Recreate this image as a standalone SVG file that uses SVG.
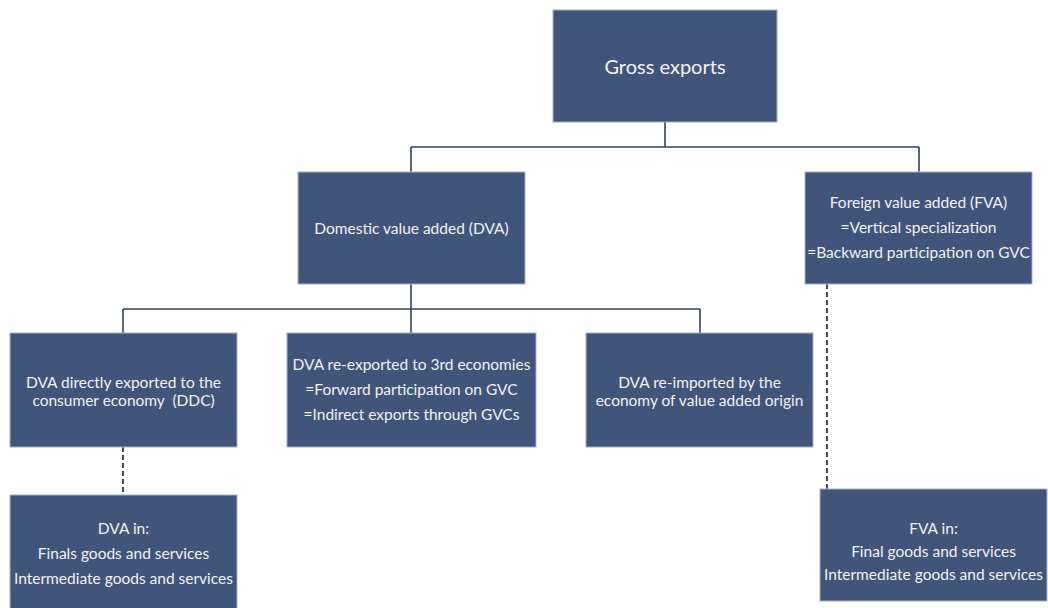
<svg xmlns="http://www.w3.org/2000/svg" width="1048" height="608" viewBox="0 0 1048 608">
<style>
.box{fill:#41547A;stroke:#A3B0C8;stroke-width:1}
.t{font-family:Lato,"Liberation Sans",sans-serif;font-size:15.5px;fill:#F2F2F2;text-anchor:middle;dominant-baseline:central}
.big{font-size:20px}
.conn{fill:none;stroke:#33425F;stroke-width:1.6}
.dash{fill:none;stroke:#111111;stroke-width:1.5;stroke-dasharray:5,3}
</style>
<rect width="1048" height="608" fill="#FFFFFF"/>
<g id="connectors">
<path class="conn" d="M665,122 V147 M411,147 H919 M411,147 V172 M919,147 V172"/>
<path class="conn" d="M411,284 V333 M123,309 H700 M123,309 V333 M700,309 V333"/>
<path class="dash" d="M123,447 V495"/>
<path class="dash" d="M827,284 V489"/>
</g>
<g id="gross-exports">
<rect class="box" x="553" y="10" width="224" height="112"/>
<text class="t big" x="665" y="66">Gross exports</text>
</g>
<g id="dva">
<rect class="box" x="298" y="172" width="227" height="112"/>
<text class="t" x="411.5" y="228">Domestic value added (DVA)</text>
</g>
<g id="fva">
<rect class="box" x="805" y="172" width="227" height="112"/>
<text class="t" x="918.5" y="202">Foreign value added (FVA)</text>
<text class="t" x="918.5" y="227">=Vertical specialization</text>
<text class="t" x="918.5" y="252">=Backward participation on GVC</text>
</g>
<g id="ddc">
<rect class="box" x="10" y="333" width="227" height="114"/>
<text class="t" x="123.5" y="382">DVA directly exported to the</text>
<text class="t" x="123.5" y="400">consumer economy&#160; (DDC)</text>
</g>
<g id="reexported">
<rect class="box" x="287" y="333" width="249" height="114"/>
<text class="t" x="411.5" y="364">DVA re-exported to 3rd economies</text>
<text class="t" x="411.5" y="389">=Forward participation on GVC</text>
<text class="t" x="411.5" y="414">=Indirect exports through GVCs</text>
</g>
<g id="reimported">
<rect class="box" x="586" y="333" width="227" height="114"/>
<text class="t" x="699.5" y="382">DVA re-imported by the</text>
<text class="t" x="699.5" y="400">economy of value added origin</text>
</g>
<g id="dva-in">
<rect class="box" x="10" y="495" width="227" height="116"/>
<text class="t" x="123.5" y="528">DVA in:</text>
<text class="t" x="123.5" y="553">Finals goods and services</text>
<text class="t" x="123.5" y="578">Intermediate goods and services</text>
</g>
<g id="fva-in">
<rect class="box" x="820" y="489" width="227" height="112"/>
<text class="t" x="933.5" y="528">FVA in:</text>
<text class="t" x="933.5" y="551">Final goods and services</text>
<text class="t" x="933.5" y="574">Intermediate goods and services</text>
</g>
</svg>
